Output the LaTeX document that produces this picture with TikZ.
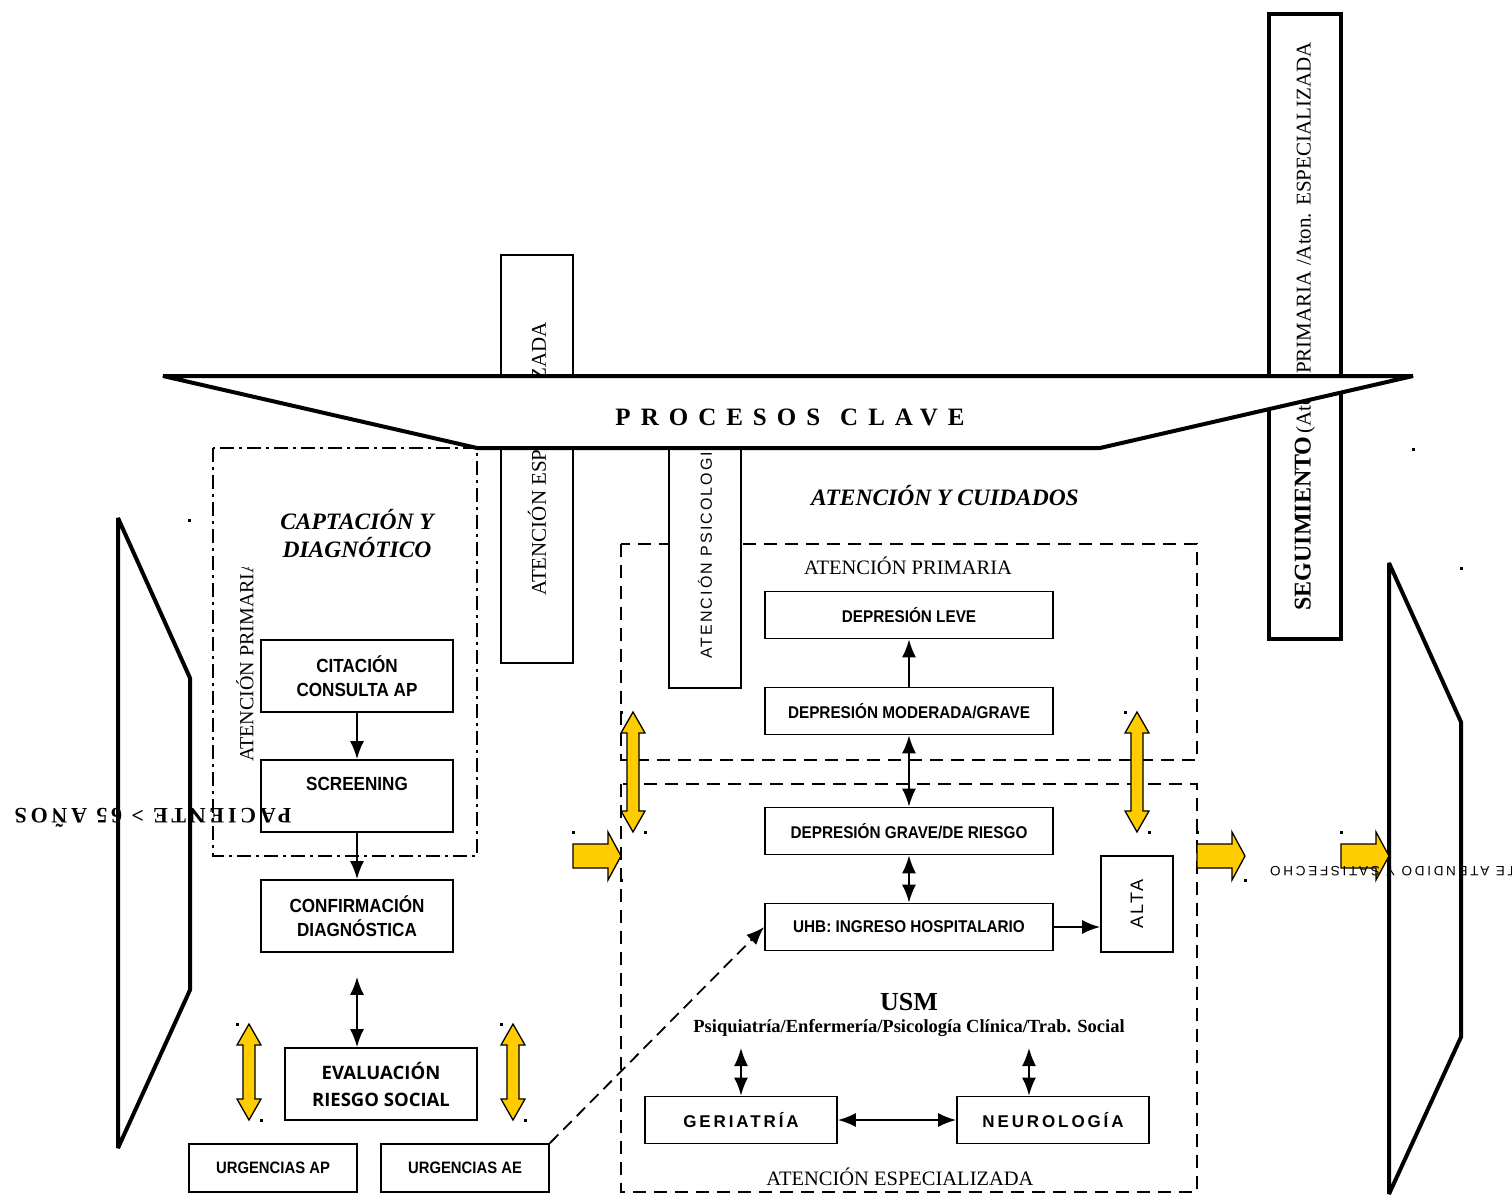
\documentclass[tikz,border=0pt]{standalone}
\usepackage{fontspec}
\setmainfont{Liberation Serif}
\newfontfamily\narrowf[FakeStretch=0.9]{Liberation Sans}
\newfontfamily\sansf{Liberation Sans}
\newfontfamily\opensf{Open Sans}
\usetikzlibrary{arrows.meta}
\definecolor{ygold}{HTML}{FFCC00}
\newcommand\yvarrow[3]{\draw[yfill] (#1,#2) -- (#1+12,#2+21) -- (#1+6,#2+21) -- (#1+6,#3-21) -- (#1+12,#3-21) -- (#1,#3) -- (#1-12,#3-21) -- (#1-6,#3-21) -- (#1-6,#2+21) -- (#1-12,#2+21) -- cycle;
  \fill (#1-13,#2-1) rectangle ++(2.5,2.5); \fill (#1+11,#3-1) rectangle ++(2.5,2.5);}
\newcommand\yharrow[3]{\draw[yfill] (#1,#3-12) -- (#2-13,#3-12) -- (#2-13,#3-24) -- (#2,#3) -- (#2-13,#3+24) -- (#2-13,#3+12) -- (#1,#3+12) -- cycle;
  \fill (#1-1,#3-25) rectangle ++(2.5,2.5); \fill (#2-1,#3+23) rectangle ++(2.5,2.5);}
\tikzset{
  box/.style={draw, line width=1.8pt, fill=white, inner sep=0pt, align=center},
  nbox/.style={box, font=\narrowf\bfseries\fontsize{17}{20}\selectfont, minimum width=288pt, minimum height=47pt},
  lbox/.style={box, font=\narrowf\bfseries\fontsize{19}{24}\selectfont, minimum width=192pt, minimum height=72pt},
  ubox/.style={box, font=\narrowf\bfseries\fontsize{16.5}{20}\selectfont, minimum width=168pt, minimum height=48pt},
  sbox/.style={box, font=\sansf\bfseries\addfontfeature{LetterSpace=17}\fontsize{17}{20}\selectfont, minimum width=192pt, minimum height=47pt},
  conn/.style={line width=1.8pt, -{Latex[length=18pt,width=14pt]}},
  dconn/.style={line width=1.8pt, {Latex[length=18pt,width=14pt]}-{Latex[length=18pt,width=14pt]}},
  yfill/.style={draw, line width=1.3pt, fill=ygold, line join=miter},
  thickline/.style={line width=4pt, line join=bevel},
  dashbox/.style={line width=1.8pt, dash pattern=on 13pt off 8pt},
  dashdotbox/.style={line width=1.8pt, dash pattern=on 14pt off 5pt on 3pt off 5pt},
}
\begin{document}
\begin{tikzpicture}[x=1pt,y=-1pt]
\useasboundingbox (0,0) rectangle (1512,1194);

% dashed regions
\draw[dashdotbox] (213,448) rectangle (477,856);
\draw[dashbox] (621,544) rectangle (1197,760);
\draw[dashbox] (621,784) rectangle (1197,1192);

% side trapezoids
\draw[thickline] (118,518) -- (190,678) -- (190,990) -- (118,1148) -- cycle;
\draw[thickline] (1389,563) -- (1461,722) -- (1461,1037) -- (1389,1194) -- cycle;

% vertical boxes
\node[box, minimum width=72pt, minimum height=408pt, font=\fontsize{21}{24}\selectfont] (vae) at (537,459) {\rotatebox{90}{ATENCIÓN ESPECIALIZADA}};
\node[box, minimum width=72pt, minimum height=292pt, font=\sansf\addfontfeature{LetterSpace=13}\fontsize{16}{18}\selectfont] (vps) at (705,542) {\rotatebox{90}{ATENCIÓN PSICOLOGICA}};
\node[box, line width=3.5pt, minimum width=72pt, minimum height=625pt] (seg) at (1305,326.5) {\rotatebox{90}{{\fontsize{24}{26}\selectfont\bfseries SEGUIMIENTO} {\fontsize{21}{24}\selectfont(Aten. PRIMARIA /Aton. ESPECIALIZADA}}};

% procesos clave banner
\draw[thickline, fill=white] (163,376) -- (1413,376) -- (1100,448) -- (477,448) -- cycle;
\node[font=\bfseries\addfontfeature{LetterSpace=40}\fontsize{25}{28}\selectfont] (pc) at (790,417) {PROCESOS\hspace{20pt}CLAVE};

% small marks
\fill (188,519) rectangle ++(3,3);
\fill (1412,448) rectangle ++(3,3);
\fill (1460,567) rectangle ++(3,3);

% left column
\begin{scope}
\clip (220,567) rectangle (258,800);
\node[rotate=90, anchor=west, inner sep=0pt, font=\fontsize{20}{22}\selectfont] (apv) at (245,762) {ATENCIÓN PRIMARIA};
\end{scope}
\node[font=\bfseries\itshape\fontsize{23.5}{28}\selectfont, align=center] (capt) at (357,534) {CAPTACIÓN Y\\DIAGNÓTICO};
\node[lbox] (cit) at (357,676) {CITACIÓN\\CONSULTA AP};
\node[lbox] (scr) at (357,796) {SCREENING\\~};
\node[lbox] (conf) at (357,916) {CONFIRMACIÓN\\DIAGNÓSTICA};
\node[box, font=\opensf\bfseries\fontsize{18.5}{27}\selectfont, minimum width=192pt, minimum height=72pt] (eval) at (381,1084) {EVALUACIÓN\\RIESGO SOCIAL};
\node[ubox] (uap) at (273,1168) {URGENCIAS AP};
\node[ubox] (uae) at (465,1168) {URGENCIAS AE};
\draw[conn] (cit) -- (scr);
\draw[conn] (scr) -- (conf);
\draw[dconn, shorten <=24pt] (conf.south) -- (conf.south |- eval.north);

% right section
\node[font=\bfseries\itshape\fontsize{23.5}{28}\selectfont] (acu) at (945,496) {ATENCIÓN Y CUIDADOS};
\node[font=\fontsize{20.5}{22}\selectfont] (aplab) at (908,566) {ATENCIÓN PRIMARIA};
\node[font=\fontsize{20.5}{22}\selectfont] (aelab) at (900,1177) {ATENCIÓN ESPECIALIZADA};
\node[nbox] (leve) at (909,615) {DEPRESIÓN LEVE};
\node[nbox] (mod) at (909,711) {DEPRESIÓN MODERADA/GRAVE};
\node[nbox] (gr) at (909,831) {DEPRESIÓN GRAVE/DE RIESGO};
\node[nbox] (uhb) at (909,927) {UHB: INGRESO HOSPITALARIO};
\node[box, minimum width=72pt, minimum height=96pt, font=\sansf\addfontfeature{LetterSpace=12}\fontsize{18}{20}\selectfont] (alta) at (1137,904) {\rotatebox{90}{ALTA}};
\node[font=\bfseries\fontsize{26}{28}\selectfont] (usm) at (909,1002) {USM};
\node[font=\bfseries\fontsize{18.5}{20}\selectfont] (usmsub) at (909,1028) {Psiquiatría/Enfermería/Psicología Clínica/Trab. Social};
\node[sbox] (ger) at (741,1120) {GERIATRÍA};
\node[sbox] (neu) at (1053,1120) {NEUROLOGÍA};
\coordinate (ga) at (741,1048);
\coordinate (na) at (1029,1048);

\draw[conn] (mod) -- (leve);
\draw[dconn] (mod) -- (gr);
\draw[dconn] (gr) -- (uhb);
\draw[conn] (uhb.east) -- (uhb.east -| alta.west);
\draw[conn, dash pattern=on 12pt off 7pt] (uae.north east) -- (uhb.west);
\draw[dconn] (ga) -- (ger.north);
\draw[dconn] (na) -- (na |- neu.north);
\draw[dconn] (ger) -- (neu);

% yellow arrows
\yvarrow{249}{1024}{1120}
\yvarrow{513}{1024}{1120}
\yvarrow{633}{712}{832}
\yvarrow{1137}{712}{832}
\yharrow{573}{621}{856}
\yharrow{1197}{1245}{856}
\yharrow{1341}{1389}{856}

% upside-down texts
\node[rotate=180, font=\bfseries\addfontfeature{LetterSpace=17}\fontsize{22}{24}\selectfont] (pac) at (153,818) {PACIENTE > 65 AÑOS};
\node[rotate=180, anchor=east, inner sep=0pt, font=\sansf\addfontfeature{LetterSpace=20}\fontsize{13.5}{15}\selectfont] (pas) at (1270,871) {PACIENTE ATENDIDO Y SATISFECHO};
\end{tikzpicture}
\end{document}
